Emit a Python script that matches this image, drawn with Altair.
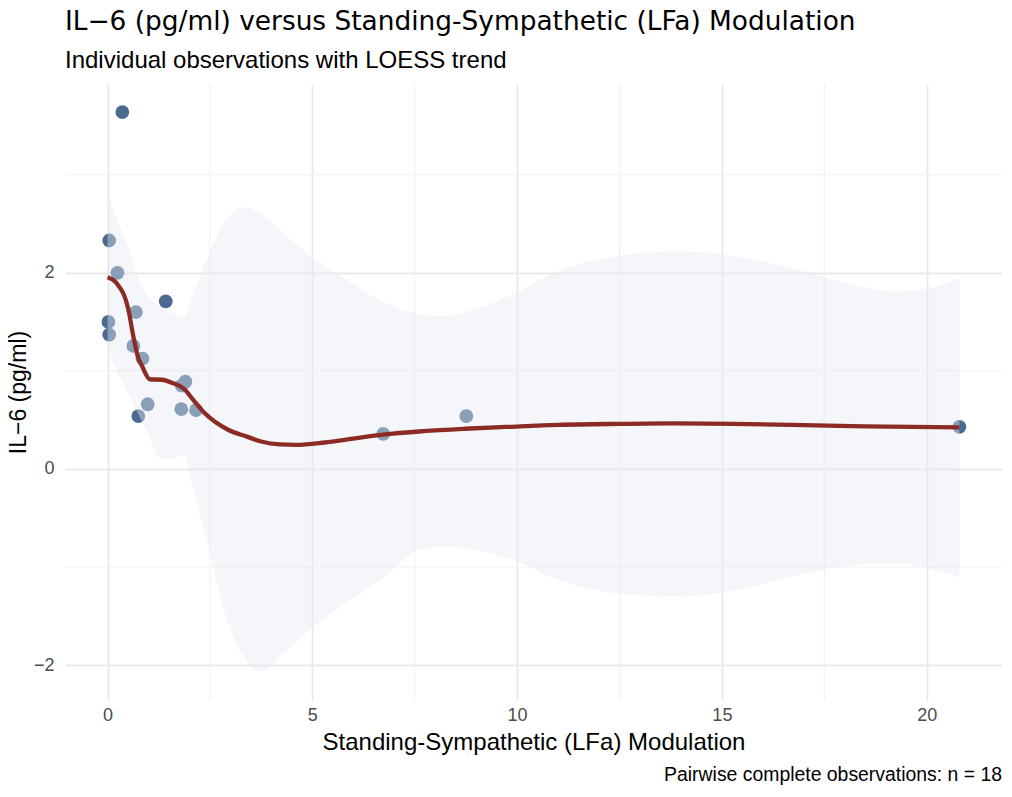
import altair as alt
import pandas as pd

# ---- data ----
pt_x = [0.36, 0.04, 0.24, 1.42, 0.69, 0.02, 0.04, 0.63, 0.85, 1.90, 1.81, 0.98, 1.80, 2.16, 0.75, 6.73, 8.76, 20.80]
pt_y = [3.64, 2.33, 2.00, 1.71, 1.60, 1.50, 1.37, 1.255, 1.125, 0.89, 0.85, 0.66, 0.61, 0.60, 0.54, 0.357, 0.54, 0.43]

fit_x = [0.0, 0.21, 0.51, 0.63, 0.75, 0.83, 1.03, 1.32, 1.60, 1.86, 2.10, 2.37, 2.94, 3.40, 3.75, 4.20, 4.60, 5.30, 6.00, 6.72, 7.70, 8.73, 9.80, 11.0, 12.5, 13.9, 15.3, 16.7, 18.5, 20.8]
fit_y = [1.955, 1.90, 1.62, 1.35, 1.13, 1.06, 0.915, 0.91, 0.875, 0.82, 0.70, 0.57, 0.40, 0.33, 0.28, 0.25, 0.245, 0.27, 0.31, 0.35, 0.385, 0.41, 0.43, 0.45, 0.46, 0.465, 0.46, 0.45, 0.435, 0.425]

band_x = [0, 0.25, 0.5, 0.75, 1.0, 1.3, 1.6, 1.85, 2.1, 2.45, 2.85, 3.3, 3.75, 4.3, 5.0, 5.7, 6.7, 7.6, 8.2, 8.9, 9.9, 11.0, 12.45, 13.9, 15.3, 16.7, 18.2, 19.3, 20.0, 20.8]
band_hi = [2.82, 2.52, 2.27, 1.94, 1.76, 1.66, 1.59, 1.55, 1.80, 2.17, 2.51, 2.67, 2.60, 2.40, 2.16, 1.97, 1.71, 1.58, 1.56, 1.62, 1.78, 2.02, 2.17, 2.22, 2.17, 2.05, 1.88, 1.81, 1.84, 1.95]
band_lo = [1.20, 0.98, 0.77, 0.56, 0.35, 0.10, 0.11, 0.14, -0.22, -0.78, -1.45, -1.90, -2.07, -1.88, -1.62, -1.40, -1.12, -0.83, -0.79, -0.82, -0.93, -1.13, -1.27, -1.30, -1.24, -1.10, -0.98, -0.96, -1.01, -1.11]

x_major = [0, 5, 10, 15, 20]
x_minor = [2.5, 7.5, 12.5, 17.5]
y_major = [-2, 0, 2]
y_minor = [-1, 1, 3]

title_text = "IL\u22126 (pg/ml) versus Standing-Sympathetic (LFa) Modulation"
subtitle_text = "Individual observations with LOESS trend"
x_title = "Standing-Sympathetic (LFa) Modulation"
y_title = "IL\u22126 (pg/ml)"
caption = "Pairwise complete observations: n = 18"

# ---- chart ----
W, H = 937, 616
xs = alt.Scale(domain=[-1.04, 21.84], nice=False, zero=False)
ys = alt.Scale(domain=[-2.356, 3.926], nice=False, zero=False)

ax_x = alt.Axis(values=x_major, title=x_title, grid=True, gridColor="#e9e9e9", gridWidth=1.8,
                domain=False, ticks=False, labelFont="Liberation Sans", labelFontSize=18,
                labelColor="#4d4d4d", labelPadding=6, titleFont="Liberation Sans",
                titleFontSize=24, titleFontWeight="normal", titleColor="black", titlePadding=6)
ax_y = alt.Axis(values=y_major, title=y_title, grid=True, gridColor="#e9e9e9", gridWidth=1.8,
                domain=False, ticks=False, labelFont="Liberation Sans", labelFontSize=18,
                labelColor="#4d4d4d", labelPadding=11, titleFont="Liberation Sans",
                titleFontSize=23, titleFontWeight="normal", titleColor="black", titlePadding=3)

pts = pd.DataFrame({"x": pt_x, "y": pt_y})
fit = pd.DataFrame({"x": fit_x, "y": fit_y})
band = pd.DataFrame({"x": band_x, "lo": band_lo, "hi": band_hi})
mx = pd.DataFrame({"x": x_minor})
my = pd.DataFrame({"y": y_minor})

minor_x = alt.Chart(mx).mark_rule(color="#f0f0f0", strokeWidth=1).encode(
    x=alt.X("x:Q", scale=xs, axis=ax_x))
minor_y = alt.Chart(my).mark_rule(color="#f0f0f0", strokeWidth=1).encode(
    y=alt.Y("y:Q", scale=ys, axis=ax_y))

points = alt.Chart(pts).mark_circle(size=190, color="#4a6b8f", opacity=1).encode(
    x=alt.X("x:Q", scale=xs, axis=ax_x),
    y=alt.Y("y:Q", scale=ys, axis=ax_y))

ribbon = alt.Chart(band).mark_area(color="#e6eaf4", opacity=0.41, interpolate="monotone").encode(
    x=alt.X("x:Q", scale=xs, axis=ax_x),
    y=alt.Y("lo:Q", scale=ys, axis=ax_y),
    y2="hi:Q")

line = alt.Chart(fit).mark_line(color="#8b2b24", strokeWidth=4.3, interpolate="monotone").encode(
    x=alt.X("x:Q", scale=xs, axis=ax_x),
    y=alt.Y("y:Q", scale=ys, axis=ax_y))

cap = alt.Chart(pd.DataFrame({"t": [caption]})).mark_text(
    align="right", baseline="alphabetic", font="Liberation Sans", fontSize=19.4, color="black"
).encode(x=alt.value(W), y=alt.value(697), text="t:N")

chart = alt.layer(minor_x, minor_y, points, ribbon, line, cap).properties(
    width=W, height=H,
    autosize=alt.AutoSizeParams(type="none"),
    padding={"left": 57, "top": 76, "right": 0, "bottom": 85},
    title=alt.TitleParams(text=title_text, subtitle=subtitle_text, anchor="start", frame="group",
                          font="DejaVu Sans", fontSize=26.4, fontWeight="normal", color="black",
                          subtitleFont="Liberation Sans", subtitleFontSize=24, subtitleColor="black",
                          subtitlePadding=13, offset=11),
).configure(background="white").configure_view(stroke=None)

chart.save("out.html", embed_options={"renderer": "svg", "actions": False})
